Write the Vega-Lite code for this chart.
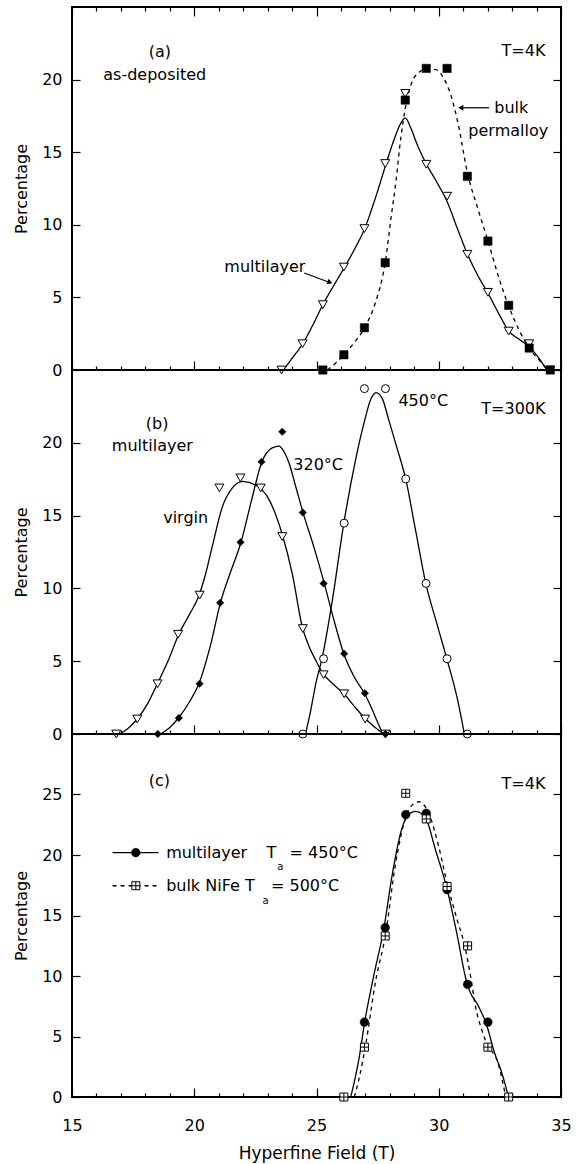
{
"$schema": "https://vega.github.io/schema/vega-lite/v6.json",
"background": "white",
"padding": {"left": 12, "top": 5, "right": 5, "bottom": 4},
"config": {
  "view": {"stroke": "black", "strokeWidth": 2},
  "font": "DejaVu Sans",
  "axis": {"grid": false, "domain": false, "tickColor": "black", "tickWidth": 1.2, "labelColor": "black", "titleColor": "black", "labelFont": "DejaVu Sans", "titleFont": "DejaVu Sans", "labelFontSize": 16, "titleFontSize": 16, "titleFontWeight": "normal", "labelFlush": false}
},
"datasets": {
  "a_pts": [
    {"s":"multilayer","x":23.57,"y":0},{"s":"multilayer","x":24.43,"y":1.81},{"s":"multilayer","x":25.26,"y":4.5},{"s":"multilayer","x":26.12,"y":7.09},{"s":"multilayer","x":26.96,"y":9.74},{"s":"multilayer","x":27.81,"y":14.22},{"s":"multilayer","x":28.63,"y":19.05},{"s":"multilayer","x":29.49,"y":14.17},{"s":"multilayer","x":30.34,"y":11.97},{"s":"multilayer","x":31.17,"y":7.97},{"s":"multilayer","x":32.01,"y":5.35},{"s":"multilayer","x":32.86,"y":2.68},{"s":"multilayer","x":33.7,"y":1.81},{"s":"multilayer","x":34.55,"y":0},
    {"s":"bulk","x":25.26,"y":0},{"s":"bulk","x":26.12,"y":1.05},{"s":"bulk","x":26.96,"y":2.91},{"s":"bulk","x":27.81,"y":7.39},{"s":"bulk","x":28.63,"y":18.59},{"s":"bulk","x":29.49,"y":20.77},{"s":"bulk","x":30.34,"y":20.77},{"s":"bulk","x":31.17,"y":13.34},{"s":"bulk","x":32.01,"y":8.88},{"s":"bulk","x":32.86,"y":4.45},{"s":"bulk","x":33.7,"y":1.51},{"s":"bulk","x":34.56,"y":0}
  ],
  "a_cur": [
    {"s":"multilayer","x":23.65,"y":0},{"s":"multilayer","x":24.0,"y":0.8},{"s":"multilayer","x":24.43,"y":1.8},{"s":"multilayer","x":24.85,"y":3.1},{"s":"multilayer","x":25.26,"y":4.5},{"s":"multilayer","x":25.7,"y":5.8},{"s":"multilayer","x":26.12,"y":7.0},{"s":"multilayer","x":26.55,"y":8.3},{"s":"multilayer","x":26.96,"y":9.7},{"s":"multilayer","x":27.4,"y":11.8},{"s":"multilayer","x":27.81,"y":14.0},{"s":"multilayer","x":28.2,"y":16.0},{"s":"multilayer","x":28.45,"y":17.0},{"s":"multilayer","x":28.63,"y":17.35},{"s":"multilayer","x":28.85,"y":16.7},{"s":"multilayer","x":29.1,"y":15.6},{"s":"multilayer","x":29.49,"y":14.2},{"s":"multilayer","x":29.9,"y":13.0},{"s":"multilayer","x":30.34,"y":11.6},{"s":"multilayer","x":30.75,"y":9.8},{"s":"multilayer","x":31.17,"y":8.0},{"s":"multilayer","x":31.6,"y":6.5},{"s":"multilayer","x":32.01,"y":5.3},{"s":"multilayer","x":32.45,"y":3.9},{"s":"multilayer","x":32.86,"y":2.7},{"s":"multilayer","x":33.3,"y":2.1},{"s":"multilayer","x":33.7,"y":1.6},{"s":"multilayer","x":34.1,"y":0.8},{"s":"multilayer","x":34.42,"y":0},
    {"s":"bulk","x":25.45,"y":0},{"s":"bulk","x":25.8,"y":0.5},{"s":"bulk","x":26.12,"y":1.05},{"s":"bulk","x":26.55,"y":1.9},{"s":"bulk","x":26.96,"y":2.9},{"s":"bulk","x":27.4,"y":4.6},{"s":"bulk","x":27.81,"y":7.4},{"s":"bulk","x":28.05,"y":10.5},{"s":"bulk","x":28.25,"y":13.0},{"s":"bulk","x":28.45,"y":16.0},{"s":"bulk","x":28.63,"y":18.0},{"s":"bulk","x":28.9,"y":19.8},{"s":"bulk","x":29.2,"y":20.5},{"s":"bulk","x":29.5,"y":20.75},{"s":"bulk","x":29.85,"y":20.7},{"s":"bulk","x":30.2,"y":20.1},{"s":"bulk","x":30.5,"y":18.9},{"s":"bulk","x":30.8,"y":16.9},{"s":"bulk","x":31.17,"y":13.6},{"s":"bulk","x":31.6,"y":11.1},{"s":"bulk","x":32.01,"y":8.9},{"s":"bulk","x":32.45,"y":6.4},{"s":"bulk","x":32.86,"y":4.4},{"s":"bulk","x":33.3,"y":2.7},{"s":"bulk","x":33.7,"y":1.5},{"s":"bulk","x":34.1,"y":0.7},{"s":"bulk","x":34.45,"y":0}
  ],
  "a_txt": [
    {"x":18.14,"y":21.9,"t":"(a)"},{"x":16.28,"y":20.3,"t":"as-deposited"},{"x":32.57,"y":22.0,"t":"T=4K"},{"x":21.23,"y":7.09,"t":"multilayer"},{"x":32.27,"y":18.06,"t":"bulk"},{"x":31.21,"y":16.45,"t":"permalloy"}
  ],
  "a_arr": [
    {"n":"bulk","x":32.06,"y":18.06,"x2":30.9,"y2":18.06},
    {"n":"ml","x":24.5,"y":6.68,"x2":25.55,"y2":6.03}
  ],
  "b_pts": [
    {"s":"virgin","x":16.81,"y":0},{"s":"virgin","x":17.67,"y":1.03},{"s":"virgin","x":18.5,"y":3.45},{"s":"virgin","x":19.34,"y":6.85},{"s":"virgin","x":20.22,"y":9.54},{"s":"virgin","x":21.03,"y":16.9},{"s":"virgin","x":21.89,"y":17.59},{"s":"virgin","x":22.72,"y":16.9},{"s":"virgin","x":23.6,"y":13.56},{"s":"virgin","x":24.44,"y":7.24},{"s":"virgin","x":25.29,"y":4.07},{"s":"virgin","x":26.13,"y":2.76},{"s":"virgin","x":26.99,"y":1.03},{"s":"virgin","x":27.82,"y":0},
    {"s":"c320","x":18.51,"y":0},{"s":"c320","x":19.37,"y":1.1},{"s":"c320","x":20.22,"y":3.45},{"s":"c320","x":21.06,"y":9.01},{"s":"c320","x":21.89,"y":13.17},{"s":"c320","x":22.75,"y":18.69},{"s":"c320","x":23.6,"y":20.76},{"s":"c320","x":24.44,"y":15.21},{"s":"c320","x":25.29,"y":10.34},{"s":"c320","x":26.13,"y":5.52},{"s":"c320","x":26.98,"y":2.8},{"s":"c320","x":27.82,"y":0},
    {"s":"c450","x":24.44,"y":0},{"s":"c450","x":25.29,"y":5.17},{"s":"c450","x":26.13,"y":14.48},{"s":"c450","x":26.96,"y":23.72},{"s":"c450","x":27.82,"y":23.72},{"s":"c450","x":28.65,"y":17.52},{"s":"c450","x":29.48,"y":10.34},{"s":"c450","x":30.34,"y":5.17},{"s":"c450","x":31.17,"y":0}
  ],
  "b_cur": [
    {"s":"virgin","x":16.95,"y":0},{"s":"virgin","x":17.3,"y":0.4},{"s":"virgin","x":17.67,"y":1.03},{"s":"virgin","x":18.1,"y":2.1},{"s":"virgin","x":18.49,"y":3.45},{"s":"virgin","x":18.95,"y":5.1},{"s":"virgin","x":19.38,"y":6.9},{"s":"virgin","x":19.8,"y":8.2},{"s":"virgin","x":20.19,"y":9.5},{"s":"virgin","x":20.45,"y":10.9},{"s":"virgin","x":20.74,"y":12.9},{"s":"virgin","x":21.15,"y":15.6},{"s":"virgin","x":21.56,"y":16.9},{"s":"virgin","x":21.97,"y":17.35},{"s":"virgin","x":22.51,"y":17.1},{"s":"virgin","x":23.06,"y":16.1},{"s":"virgin","x":23.6,"y":13.7},{"s":"virgin","x":24.01,"y":11.0},{"s":"virgin","x":24.42,"y":7.35},{"s":"virgin","x":24.7,"y":6.0},{"s":"virgin","x":24.97,"y":5.06},{"s":"virgin","x":25.27,"y":4.14},{"s":"virgin","x":25.7,"y":3.4},{"s":"virgin","x":26.12,"y":2.76},{"s":"virgin","x":26.55,"y":1.9},{"s":"virgin","x":27.01,"y":1.03},{"s":"virgin","x":27.4,"y":0.45},{"s":"virgin","x":27.75,"y":0},
    {"s":"c320","x":18.62,"y":0},{"s":"c320","x":19.0,"y":0.45},{"s":"c320","x":19.38,"y":1.15},{"s":"c320","x":19.8,"y":2.2},{"s":"c320","x":20.19,"y":3.45},{"s":"c320","x":20.65,"y":6.0},{"s":"c320","x":21.08,"y":9.07},{"s":"c320","x":21.5,"y":11.2},{"s":"c320","x":21.9,"y":13.1},{"s":"c320","x":22.35,"y":16.1},{"s":"c320","x":22.76,"y":18.66},{"s":"c320","x":23.19,"y":19.65},{"s":"c320","x":23.47,"y":19.77},{"s":"c320","x":23.7,"y":19.3},{"s":"c320","x":23.88,"y":18.6},{"s":"c320","x":24.15,"y":17.0},{"s":"c320","x":24.45,"y":15.2},{"s":"c320","x":24.9,"y":12.8},{"s":"c320","x":25.31,"y":10.4},{"s":"c320","x":25.7,"y":7.9},{"s":"c320","x":26.12,"y":5.5},{"s":"c320","x":26.55,"y":3.9},{"s":"c320","x":26.97,"y":2.76},{"s":"c320","x":27.3,"y":1.6},{"s":"c320","x":27.56,"y":0.57},{"s":"c320","x":27.72,"y":0},
    {"s":"c450","x":24.55,"y":0},{"s":"c450","x":24.75,"y":1.5},{"s":"c450","x":24.97,"y":3.45},{"s":"c450","x":25.24,"y":5.3},{"s":"c450","x":25.65,"y":9.2},{"s":"c450","x":26.12,"y":14.5},{"s":"c450","x":26.6,"y":18.85},{"s":"c450","x":27.01,"y":21.8},{"s":"c450","x":27.2,"y":22.9},{"s":"c450","x":27.44,"y":23.45},{"s":"c450","x":27.7,"y":23.0},{"s":"c450","x":27.95,"y":21.6},{"s":"c450","x":28.3,"y":19.6},{"s":"c450","x":28.65,"y":17.5},{"s":"c450","x":29.04,"y":14.1},{"s":"c450","x":29.47,"y":10.34},{"s":"c450","x":29.92,"y":7.6},{"s":"c450","x":30.33,"y":5.17},{"s":"c450","x":30.75,"y":2.5},{"s":"c450","x":31.05,"y":0}
  ],
  "b_txt": [
    {"x":18.02,"y":21.3,"t":"(b)"},{"x":16.63,"y":19.77,"t":"multilayer"},{"x":18.73,"y":14.83,"t":"virgin"},{"x":24.05,"y":18.5,"t":"320°C"},{"x":28.35,"y":22.87,"t":"450°C"},{"x":31.74,"y":22.3,"t":"T=300K"}
  ],
  "c_pts": [
    {"s":"ml","x":26.96,"y":6.19},{"s":"ml","x":27.81,"y":14.0},{"s":"ml","x":28.65,"y":23.34},{"s":"ml","x":29.49,"y":23.45},{"s":"ml","x":30.34,"y":17.13},{"s":"ml","x":31.18,"y":9.31},{"s":"ml","x":32.01,"y":6.19},{"s":"ml","x":17.61,"y":20.2},
    {"s":"bulk","x":26.12,"y":0},{"s":"bulk","x":26.96,"y":4.12},{"s":"bulk","x":27.81,"y":13.31},{"s":"bulk","x":28.65,"y":25.1},{"s":"bulk","x":29.49,"y":22.98},{"s":"bulk","x":30.34,"y":17.4},{"s":"bulk","x":31.18,"y":12.49},{"s":"bulk","x":32.01,"y":4.12},{"s":"bulk","x":32.86,"y":0},{"s":"bulk","x":17.61,"y":17.46}
  ],
  "c_cur": [
    {"s":"ml","g":"m","x":26.4,"y":0},{"s":"ml","g":"m","x":26.74,"y":3.2},{"s":"ml","g":"m","x":26.98,"y":6.3},{"s":"ml","g":"m","x":27.35,"y":10.1},{"s":"ml","g":"m","x":27.76,"y":14.0},{"s":"ml","g":"m","x":28.1,"y":18.4},{"s":"ml","g":"m","x":28.51,"y":22.3},{"s":"ml","g":"m","x":28.75,"y":23.3},{"s":"ml","g":"m","x":29.06,"y":23.6},{"s":"ml","g":"m","x":29.47,"y":23.0},{"s":"ml","g":"m","x":29.87,"y":20.4},{"s":"ml","g":"m","x":30.35,"y":17.1},{"s":"ml","g":"m","x":30.69,"y":14.0},{"s":"ml","g":"m","x":31.17,"y":9.3},{"s":"ml","g":"m","x":31.65,"y":7.4},{"s":"ml","g":"m","x":31.95,"y":6.0},{"s":"ml","g":"m","x":32.26,"y":3.8},{"s":"ml","g":"m","x":32.6,"y":1.86},{"s":"ml","g":"m","x":32.85,"y":0},
    {"s":"bulk","g":"b","x":26.55,"y":0},{"s":"bulk","g":"b","x":26.75,"y":1.6},{"s":"bulk","g":"b","x":27.01,"y":4.3},{"s":"bulk","g":"b","x":27.42,"y":9.6},{"s":"bulk","g":"b","x":27.83,"y":13.5},{"s":"bulk","g":"b","x":28.21,"y":19.0},{"s":"bulk","g":"b","x":28.65,"y":23.1},{"s":"bulk","g":"b","x":28.9,"y":24.1},{"s":"bulk","g":"b","x":29.19,"y":24.4},{"s":"bulk","g":"b","x":29.6,"y":23.4},{"s":"bulk","g":"b","x":30.01,"y":20.6},{"s":"bulk","g":"b","x":30.35,"y":17.6},{"s":"bulk","g":"b","x":30.76,"y":14.6},{"s":"bulk","g":"b","x":31.05,"y":12.6},{"s":"bulk","g":"b","x":31.3,"y":10.0},{"s":"bulk","g":"b","x":31.51,"y":7.4},{"s":"bulk","g":"b","x":31.75,"y":5.6},{"s":"bulk","g":"b","x":31.99,"y":4.3},{"s":"bulk","g":"b","x":32.4,"y":2.96},{"s":"bulk","g":"b","x":32.74,"y":0},
    {"s":"ml","g":"l1","x":16.66,"y":20.2},{"s":"ml","g":"l1","x":18.54,"y":20.2},
    {"s":"bulk","g":"l2","x":16.66,"y":17.46},{"s":"bulk","g":"l2","x":18.6,"y":17.46}
  ],
  "c_txt": [
    {"x":18.14,"y":26.15,"t":"(c)"},{"x":32.57,"y":25.9,"t":"T=4K"},{"x":18.85,"y":20.2,"t":"multilayer"},{"x":22.96,"y":20.2,"t":"T"},{"x":23.9,"y":20.2,"t":"= 450°C"},{"x":18.85,"y":17.46,"t":"bulk NiFe T"},{"x":23.14,"y":17.46,"t":"= 500°C"}
  ],
  "c_sub": [
    {"x":23.52,"y":18.97,"t":"a"},{"x":22.92,"y":16.21,"t":"a"}
  ]
},
"spacing": 0,
"bounds": "flush",
"vconcat": [
  {
    "width": 489, "height": 363,
    "resolve": {"axis": {"x": "independent", "y": "independent"}},
    "layer": [
      {"data": {"name": "a_pts"}, "mark": {"type": "point", "opacity": 0},
       "encoding": {
         "x": {"field": "x", "type": "quantitative", "scale": {"domain": [15, 35], "nice": false, "zero": false}, "axis": {"orient": "bottom", "values": [15,20,25,30,35], "tickSize": -9, "labels": false, "title": null}},
         "y": {"field": "y", "type": "quantitative", "scale": {"domain": [0, 25], "nice": false, "zero": false}, "axis": {"orient": "left", "values": [0,5,10,15,20], "tickSize": -8, "labelPadding": 18, "title": "Percentage", "titlePadding": 12}}}},
      {"data": {"name": "a_pts"}, "mark": {"type": "point", "opacity": 0},
       "encoding": {
         "x": {"field": "x", "type": "quantitative", "scale": {"domain": [15, 35], "nice": false, "zero": false}, "axis": {"orient": "top", "values": [15,20,25,30,35], "tickSize": -9, "labels": false, "title": null}},
         "y": {"field": "y", "type": "quantitative", "scale": {"domain": [0, 25], "nice": false, "zero": false}, "axis": {"orient": "right", "values": [0,5,10,15,20], "tickSize": -8, "labels": false, "title": null}}}},
      {"data": {"name": "a_pts"}, "mark": {"type": "point", "opacity": 0},
       "encoding": {
         "x": {"field": "x", "type": "quantitative", "scale": {"domain": [15, 35], "nice": false, "zero": false}, "axis": {"orient": "bottom", "values": [16,17,18,19,21,22,23,24,26,27,28,29,31,32,33,34], "tickSize": -4, "labels": false, "title": null}},
         "y": {"field": "y", "type": "quantitative", "scale": {"domain": [0, 25], "nice": false, "zero": false}, "axis": null}}},
      {"data": {"name": "a_pts"}, "mark": {"type": "point", "opacity": 0},
       "encoding": {
         "x": {"field": "x", "type": "quantitative", "scale": {"domain": [15, 35], "nice": false, "zero": false}, "axis": {"orient": "top", "values": [16,17,18,19,21,22,23,24,26,27,28,29,31,32,33,34], "tickSize": -4, "labels": false, "title": null}},
         "y": {"field": "y", "type": "quantitative", "scale": {"domain": [0, 25], "nice": false, "zero": false}, "axis": null}}},
      {"data": {"name": "a_cur"}, "mark": {"type": "line", "interpolate": "monotone", "color": "black", "strokeWidth": 1.3},
       "encoding": {
         "x": {"field": "x", "type": "quantitative", "axis": null},
         "y": {"field": "y", "type": "quantitative", "axis": null},
         "strokeDash": {"field": "s", "type": "nominal", "scale": {"domain": ["multilayer", "bulk"], "range": [[1, 0], [4, 4]]}, "legend": null}}},
      {"data": {"name": "a_pts"}, "transform": [{"filter": "datum.s === 'multilayer'"}],
       "mark": {"type": "point", "shape": "triangle-down", "filled": true, "fill": "white", "stroke": "black", "strokeWidth": 1, "size": 80, "opacity": 1},
       "encoding": {"x": {"field": "x", "type": "quantitative", "axis": null}, "y": {"field": "y", "type": "quantitative", "axis": null}}},
      {"data": {"name": "a_pts"}, "transform": [{"filter": "datum.s === 'bulk'"}],
       "mark": {"type": "point", "shape": "square", "filled": true, "fill": "black", "stroke": "black", "strokeWidth": 0.5, "size": 70, "opacity": 1},
       "encoding": {"x": {"field": "x", "type": "quantitative", "axis": null}, "y": {"field": "y", "type": "quantitative", "axis": null}}},
      {"data": {"name": "a_arr"}, "mark": {"type": "rule", "color": "black", "strokeWidth": 1.2},
       "encoding": {"x": {"field": "x", "type": "quantitative", "axis": null}, "y": {"field": "y", "type": "quantitative", "axis": null}, "x2": {"field": "x2"}, "y2": {"field": "y2"}}},
      {"data": {"name": "a_arr"}, "transform": [{"filter": "datum.n === 'bulk'"}],
       "mark": {"type": "point", "shape": "triangle-left", "filled": true, "color": "black", "size": 35, "opacity": 1},
       "encoding": {"x": {"field": "x2", "type": "quantitative", "axis": null}, "y": {"field": "y2", "type": "quantitative", "axis": null}}},
      {"data": {"name": "a_arr"}, "transform": [{"filter": "datum.n === 'ml'"}],
       "mark": {"type": "point", "shape": "triangle-right", "angle": 20, "filled": true, "color": "black", "size": 35, "opacity": 1},
       "encoding": {"x": {"field": "x2", "type": "quantitative", "axis": null}, "y": {"field": "y2", "type": "quantitative", "axis": null}}},
      {"data": {"name": "a_txt"}, "mark": {"type": "text", "align": "left", "baseline": "middle", "font": "DejaVu Sans", "fontSize": 16, "color": "black"},
       "encoding": {"x": {"field": "x", "type": "quantitative", "axis": null}, "y": {"field": "y", "type": "quantitative", "axis": null}, "text": {"field": "t"}}}
    ]
  },
  {
    "width": 489, "height": 364,
    "resolve": {"axis": {"x": "independent", "y": "independent"}},
    "layer": [
      {"data": {"name": "b_pts"}, "mark": {"type": "point", "opacity": 0},
       "encoding": {
         "x": {"field": "x", "type": "quantitative", "scale": {"domain": [15, 35], "nice": false, "zero": false}, "axis": {"orient": "bottom", "values": [15,20,25,30,35], "tickSize": -9, "labels": false, "title": null}},
         "y": {"field": "y", "type": "quantitative", "scale": {"domain": [0, 25], "nice": false, "zero": false}, "axis": {"orient": "left", "values": [0,5,10,15,20], "tickSize": -8, "labelPadding": 18, "title": "Percentage", "titlePadding": 12}}}},
      {"data": {"name": "b_pts"}, "mark": {"type": "point", "opacity": 0},
       "encoding": {
         "x": {"field": "x", "type": "quantitative", "scale": {"domain": [15, 35], "nice": false, "zero": false}, "axis": null},
         "y": {"field": "y", "type": "quantitative", "scale": {"domain": [0, 25], "nice": false, "zero": false}, "axis": {"orient": "right", "values": [0,5,10,15,20], "tickSize": -8, "labels": false, "title": null}}}},
      {"data": {"name": "b_pts"}, "mark": {"type": "point", "opacity": 0},
       "encoding": {
         "x": {"field": "x", "type": "quantitative", "scale": {"domain": [15, 35], "nice": false, "zero": false}, "axis": {"orient": "bottom", "values": [16,17,18,19,21,22,23,24,26,27,28,29,31,32,33,34], "tickSize": -4, "labels": false, "title": null}},
         "y": {"field": "y", "type": "quantitative", "scale": {"domain": [0, 25], "nice": false, "zero": false}, "axis": null}}},
      {"data": {"name": "b_cur"}, "mark": {"type": "line", "interpolate": "monotone", "color": "black", "strokeWidth": 1.3},
       "encoding": {
         "x": {"field": "x", "type": "quantitative", "axis": null},
         "y": {"field": "y", "type": "quantitative", "axis": null},
         "detail": {"field": "s", "type": "nominal"}}},
      {"data": {"name": "b_pts"}, "transform": [{"filter": "datum.s === 'virgin'"}],
       "mark": {"type": "point", "shape": "triangle-down", "filled": true, "fill": "white", "stroke": "black", "strokeWidth": 1, "size": 80, "opacity": 1},
       "encoding": {"x": {"field": "x", "type": "quantitative", "axis": null}, "y": {"field": "y", "type": "quantitative", "axis": null}}},
      {"data": {"name": "b_pts"}, "transform": [{"filter": "datum.s === 'c320'"}],
       "mark": {"type": "point", "shape": "diamond", "filled": true, "fill": "black", "stroke": "black", "strokeWidth": 0.5, "size": 55, "opacity": 1},
       "encoding": {"x": {"field": "x", "type": "quantitative", "axis": null}, "y": {"field": "y", "type": "quantitative", "axis": null}}},
      {"data": {"name": "b_pts"}, "transform": [{"filter": "datum.s === 'c450'"}],
       "mark": {"type": "point", "shape": "circle", "filled": true, "fill": "white", "stroke": "black", "strokeWidth": 1, "size": 64, "opacity": 1},
       "encoding": {"x": {"field": "x", "type": "quantitative", "axis": null}, "y": {"field": "y", "type": "quantitative", "axis": null}}},
      {"data": {"name": "b_txt"}, "mark": {"type": "text", "align": "left", "baseline": "middle", "font": "DejaVu Sans", "fontSize": 16, "color": "black"},
       "encoding": {"x": {"field": "x", "type": "quantitative", "axis": null}, "y": {"field": "y", "type": "quantitative", "axis": null}, "text": {"field": "t"}}}
    ]
  },
  {
    "width": 489, "height": 363,
    "resolve": {"axis": {"x": "independent", "y": "independent"}},
    "layer": [
      {"data": {"name": "c_pts"}, "mark": {"type": "point", "opacity": 0},
       "encoding": {
         "x": {"field": "x", "type": "quantitative", "scale": {"domain": [15, 35], "nice": false, "zero": false}, "axis": {"orient": "bottom", "values": [15,20,25,30,35], "tickSize": -9, "labelPadding": 29, "title": "Hyperfine Field (T)", "titleFontSize": 17, "titlePadding": 12}},
         "y": {"field": "y", "type": "quantitative", "scale": {"domain": [0, 30], "nice": false, "zero": false}, "axis": {"orient": "left", "values": [0,5,10,15,20,25], "tickSize": -8, "labelPadding": 18, "title": "Percentage", "titlePadding": 12}}}},
      {"data": {"name": "c_pts"}, "mark": {"type": "point", "opacity": 0},
       "encoding": {
         "x": {"field": "x", "type": "quantitative", "scale": {"domain": [15, 35], "nice": false, "zero": false}, "axis": null},
         "y": {"field": "y", "type": "quantitative", "scale": {"domain": [0, 30], "nice": false, "zero": false}, "axis": {"orient": "right", "values": [0,5,10,15,20,25], "tickSize": -8, "labels": false, "title": null}}}},
      {"data": {"name": "c_pts"}, "mark": {"type": "point", "opacity": 0},
       "encoding": {
         "x": {"field": "x", "type": "quantitative", "scale": {"domain": [15, 35], "nice": false, "zero": false}, "axis": {"orient": "bottom", "values": [16,17,18,19,21,22,23,24,26,27,28,29,31,32,33,34], "tickSize": -4, "labels": false, "title": null}},
         "y": {"field": "y", "type": "quantitative", "scale": {"domain": [0, 30], "nice": false, "zero": false}, "axis": null}}},
      {"data": {"name": "c_cur"}, "mark": {"type": "line", "interpolate": "monotone", "color": "black", "strokeWidth": 1.3},
       "encoding": {
         "x": {"field": "x", "type": "quantitative", "axis": null},
         "y": {"field": "y", "type": "quantitative", "axis": null},
         "strokeDash": {"field": "s", "type": "nominal", "scale": {"domain": ["ml", "bulk"], "range": [[1, 0], [4, 3]]}, "legend": null},
         "detail": {"field": "g", "type": "nominal"}}},
      {"data": {"name": "c_pts"}, "transform": [{"filter": "datum.s === 'ml'"}],
       "mark": {"type": "point", "shape": "circle", "filled": true, "fill": "black", "stroke": "black", "strokeWidth": 0.5, "size": 75, "opacity": 1},
       "encoding": {"x": {"field": "x", "type": "quantitative", "axis": null}, "y": {"field": "y", "type": "quantitative", "axis": null}}},
      {"data": {"name": "c_pts"}, "transform": [{"filter": "datum.s === 'bulk'"}],
       "mark": {"type": "point", "shape": "M-1,-1L1,-1L1,1L-1,1Z M-1,0L1,0 M0,-1L0,1", "filled": true, "fill": "white", "stroke": "black", "strokeWidth": 1, "size": 64, "opacity": 1},
       "encoding": {"x": {"field": "x", "type": "quantitative", "axis": null}, "y": {"field": "y", "type": "quantitative", "axis": null}}},
      {"data": {"name": "c_txt"}, "mark": {"type": "text", "align": "left", "baseline": "middle", "font": "DejaVu Sans", "fontSize": 16, "color": "black"},
       "encoding": {"x": {"field": "x", "type": "quantitative", "axis": null}, "y": {"field": "y", "type": "quantitative", "axis": null}, "text": {"field": "t"}}},
      {"data": {"name": "c_sub"}, "mark": {"type": "text", "align": "center", "baseline": "middle", "font": "DejaVu Sans", "fontSize": 10, "color": "black"},
       "encoding": {"x": {"field": "x", "type": "quantitative", "axis": null}, "y": {"field": "y", "type": "quantitative", "axis": null}, "text": {"field": "t"}}}
    ]
  }
]
}
